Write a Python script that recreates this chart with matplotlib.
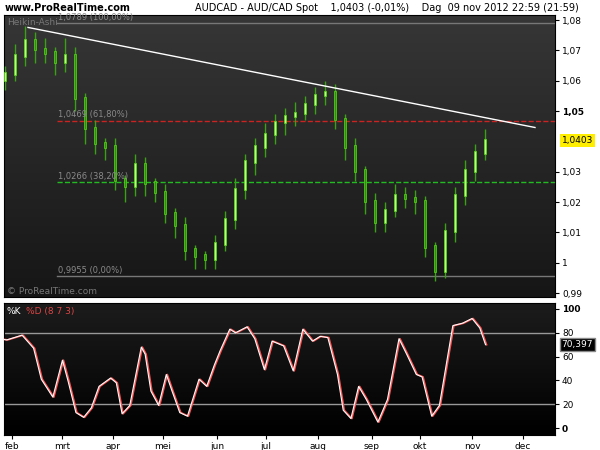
import matplotlib
matplotlib.use("Agg")
import matplotlib.pyplot as plt
import numpy as np

# x positions are in months after 1 feb 2012
months = ["feb", "mrt", "apr", "mei", "jun", "jul", "aug", "sep", "okt", "nov", "dec"]
month_px = [12, 62, 113, 163, 217, 266, 318, 372, 420, 472, 523]

price_px = list(range(5, 490, 10))
closes = [1.062, 1.068, 1.073, 1.070, 1.069, 1.066, 1.068, 1.054, 1.044, 1.039,
          1.038, 1.027, 1.025, 1.032, 1.026, 1.023, 1.016, 1.012, 1.004, 1.002,
          1.001, 1.006, 1.014, 1.024, 1.033, 1.038, 1.042, 1.046, 1.048, 1.049,
          1.052, 1.055, 1.056, 1.047, 1.038, 1.030, 1.020, 1.013, 1.017, 1.022,
          1.021, 1.020, 1.005, 0.997, 1.010, 1.022, 1.030, 1.036, 1.040]
wick_up = [3, 4, 5, 3, 4, 2, 6, 3, 2, 3, 2, 3, 2, 4, 3, 2, 3, 2, 3, 2,
           2, 3, 3, 4, 3, 3, 4, 3, 3, 4, 3, 3, 4, 3, 2, 3, 2, 3, 3, 4,
           3, 3, 2, 2, 3, 3, 4, 3, 4]
wick_dn = [3, 2, 3, 4, 3, 4, 3, 4, 5, 3, 4, 3, 5, 3, 4, 3, 3, 4, 3, 4,
           3, 3, 2, 3, 3, 4, 3, 3, 4, 3, 2, 3, 3, 3, 4, 3, 4, 3, 3, 2,
           3, 4, 3, 3, 2, 3, 3, 3, 2]

# stochastic points, read in the zoomed reference (scale 2.6)
k_zx = [0, 20, 60, 90, 110, 140, 165, 180, 200, 220, 240, 260, 290, 305, 320, 340,
        370, 380, 395, 415, 435, 450, 470, 490, 520, 540, 560, 575, 600, 615, 645,
        665, 690, 710, 740, 765, 790, 815, 835, 855, 880, 895, 915, 935, 955, 985,
        1010, 1040, 1060, 1085, 1100, 1125, 1145, 1180, 1205, 1230, 1250, 1265]
k_vals = [75, 74, 78, 67, 41, 26, 57, 39, 13, 9, 17, 35, 42, 38, 12, 19, 68, 62,
          31, 19, 45, 31, 13, 10, 41, 35, 53, 65, 83, 80, 85, 75, 49, 73, 69, 48,
          83, 73, 77, 76, 45, 15, 8, 35, 24, 5, 24, 75, 62, 45, 43, 10, 19, 86, 88,
          92, 84, 70]

fib_levels = [1.0789, 1.0469, 1.0266, 0.9955]
fib_labels = ["1,0789 (100,00%)", "1,0469 (61,80%)", "1,0266 (38,20%)", "0,9955 (0,00%)"]
fib_colors = ["#777777", "#cc2222", "#22bb22", "#777777"]
fib_styles = ["-", "--", "--", "-"]
price_ticks = [1.08, 1.07, 1.06, 1.05, 1.03, 1.02, 1.01, 1.00, 0.99]
price_tick_labels = ["1,08", "1,07", "1,06", "1,05", "1,03", "1,02", "1,01", "1", "0,99"]
trend_px = [28, 535]
trend_vals = [1.0776, 1.0446]


def px2t(p):
    return (np.asarray(p, dtype=float) - 12) / 51.0


W, H = 600, 450
fig = plt.figure(figsize=(6, 4.5), dpi=100, facecolor="white")
ax = fig.add_axes([4 / W, 1 - 297 / H, 551 / W, 282 / H])
ax2 = fig.add_axes([4 / W, 1 - 435 / H, 551 / W, 132 / H])
xlim = (px2t(4), px2t(555))

grad = np.linspace(0, 1, 100).reshape(-1, 1)
ax.imshow(grad, aspect="auto", extent=[*xlim, 0.9887, 1.0817], origin="upper",
          cmap=matplotlib.colors.LinearSegmentedColormap.from_list("g", ["#363636", "#161616"]),
          zorder=0)
ax2.imshow(grad, aspect="auto", extent=[*xlim, -5.8, 105], origin="upper",
           cmap=matplotlib.colors.LinearSegmentedColormap.from_list("g2", ["#1c1c1c", "#000000"]),
           zorder=0)

# candles
t = px2t(price_px)
prev = closes[0] - 0.002
for i, c in enumerate(closes):
    o = prev
    hi = max(o, c) + wick_up[i] * 0.001
    lo = min(o, c) - wick_dn[i] * 0.001
    ax.vlines(t[i], lo, hi, color="#3aa014", lw=1, zorder=3)
    col = "#b8ff80" if c >= o else "#2f8f10"
    ax.bar(t[i], abs(c - o) + 0.0008, bottom=min(o, c), width=0.045,
           color=col, edgecolor="#55dd11", lw=0.5, zorder=4)
    prev = c

for lvl, lab, col, ls in zip(fib_levels, fib_labels, fib_colors, fib_styles):
    ax.plot([px2t(57), xlim[1]], [lvl, lvl], color=col, ls=ls, lw=1, zorder=2)
    ax.text(px2t(58), lvl + 0.0004, lab, color="#8a8a8a", fontsize=6, va="bottom", zorder=5)
ax.plot(px2t(trend_px), trend_vals, color="white", lw=1, zorder=5)

ax.set_xlim(*xlim)
ax.set_ylim(0.9887, 1.0817)
ax.set_xticks([])
ax.yaxis.tick_right()
ax.set_yticks(price_ticks)
ax.set_yticklabels(price_tick_labels, fontsize=6.5)
ax.get_yticklabels()[3].set_fontweight("bold")
ax.tick_params(axis="y", length=3, pad=2)
ax.text(0.005, 0.99, "Heikin-Ashi", transform=ax.transAxes, color="#777777",
        fontsize=6.5, va="top")
ax.text(0.005, 0.005, "© ProRealTime.com", transform=ax.transAxes, color="#777777",
        fontsize=6.5, va="bottom")
ax.text(1.012, 1.0403, "1,0403", transform=ax.get_yaxis_transform(), fontsize=6.5,
        va="center", bbox=dict(facecolor="#ffee00", edgecolor="none", pad=1.5))

# stochastic
tk = px2t(np.asarray(k_zx) / 2.6)
ax2.plot(tk, k_vals, color="#ff5050", lw=1.2, zorder=3)
ax2.plot(tk - 0.02, k_vals, color="white", lw=0.8, zorder=4)
for lvl in [80, 20]:
    ax2.axhline(lvl, color="#999999", lw=1, zorder=2)
ax2.set_xlim(*xlim)
ax2.set_ylim(-5.8, 105)
ax2.yaxis.tick_right()
ax2.set_yticks([100, 80, 60, 40, 20, 0])
ax2.set_yticklabels(["100", "80", "60", "40", "20", "0"], fontsize=6.5)
for i in (0, 5):
    ax2.get_yticklabels()[i].set_fontweight("bold")
ax2.tick_params(axis="y", length=3, pad=2)
ax2.set_xticks(px2t(month_px))
ax2.set_xticklabels(months, fontsize=6.5)
ax2.tick_params(axis="x", length=3, pad=2)
ax2.text(0.005, 0.97, "%K", transform=ax2.transAxes, color="white", fontsize=6.5, va="top")
ax2.text(0.04, 0.97, "%D (8 7 3)", transform=ax2.transAxes, color="#dd4444", fontsize=6.5, va="top")
ax2.text(1.012, 70.4, "70,397", transform=ax2.get_yaxis_transform(), fontsize=6.5,
         color="white", va="center", bbox=dict(facecolor="black", edgecolor="#888888", pad=1.5))

fig.text(5 / W, 1 - 8 / H, "www.ProRealTime.com", fontsize=7, fontweight="bold", va="center")
fig.text(195 / W, 1 - 8 / H,
         "AUDCAD - AUD/CAD Spot    1,0403 (-0,01%)    Dag  09 nov 2012 22:59 (21:59)",
         fontsize=7, va="center")

fig.savefig("out.png", dpi=100, facecolor="white")
